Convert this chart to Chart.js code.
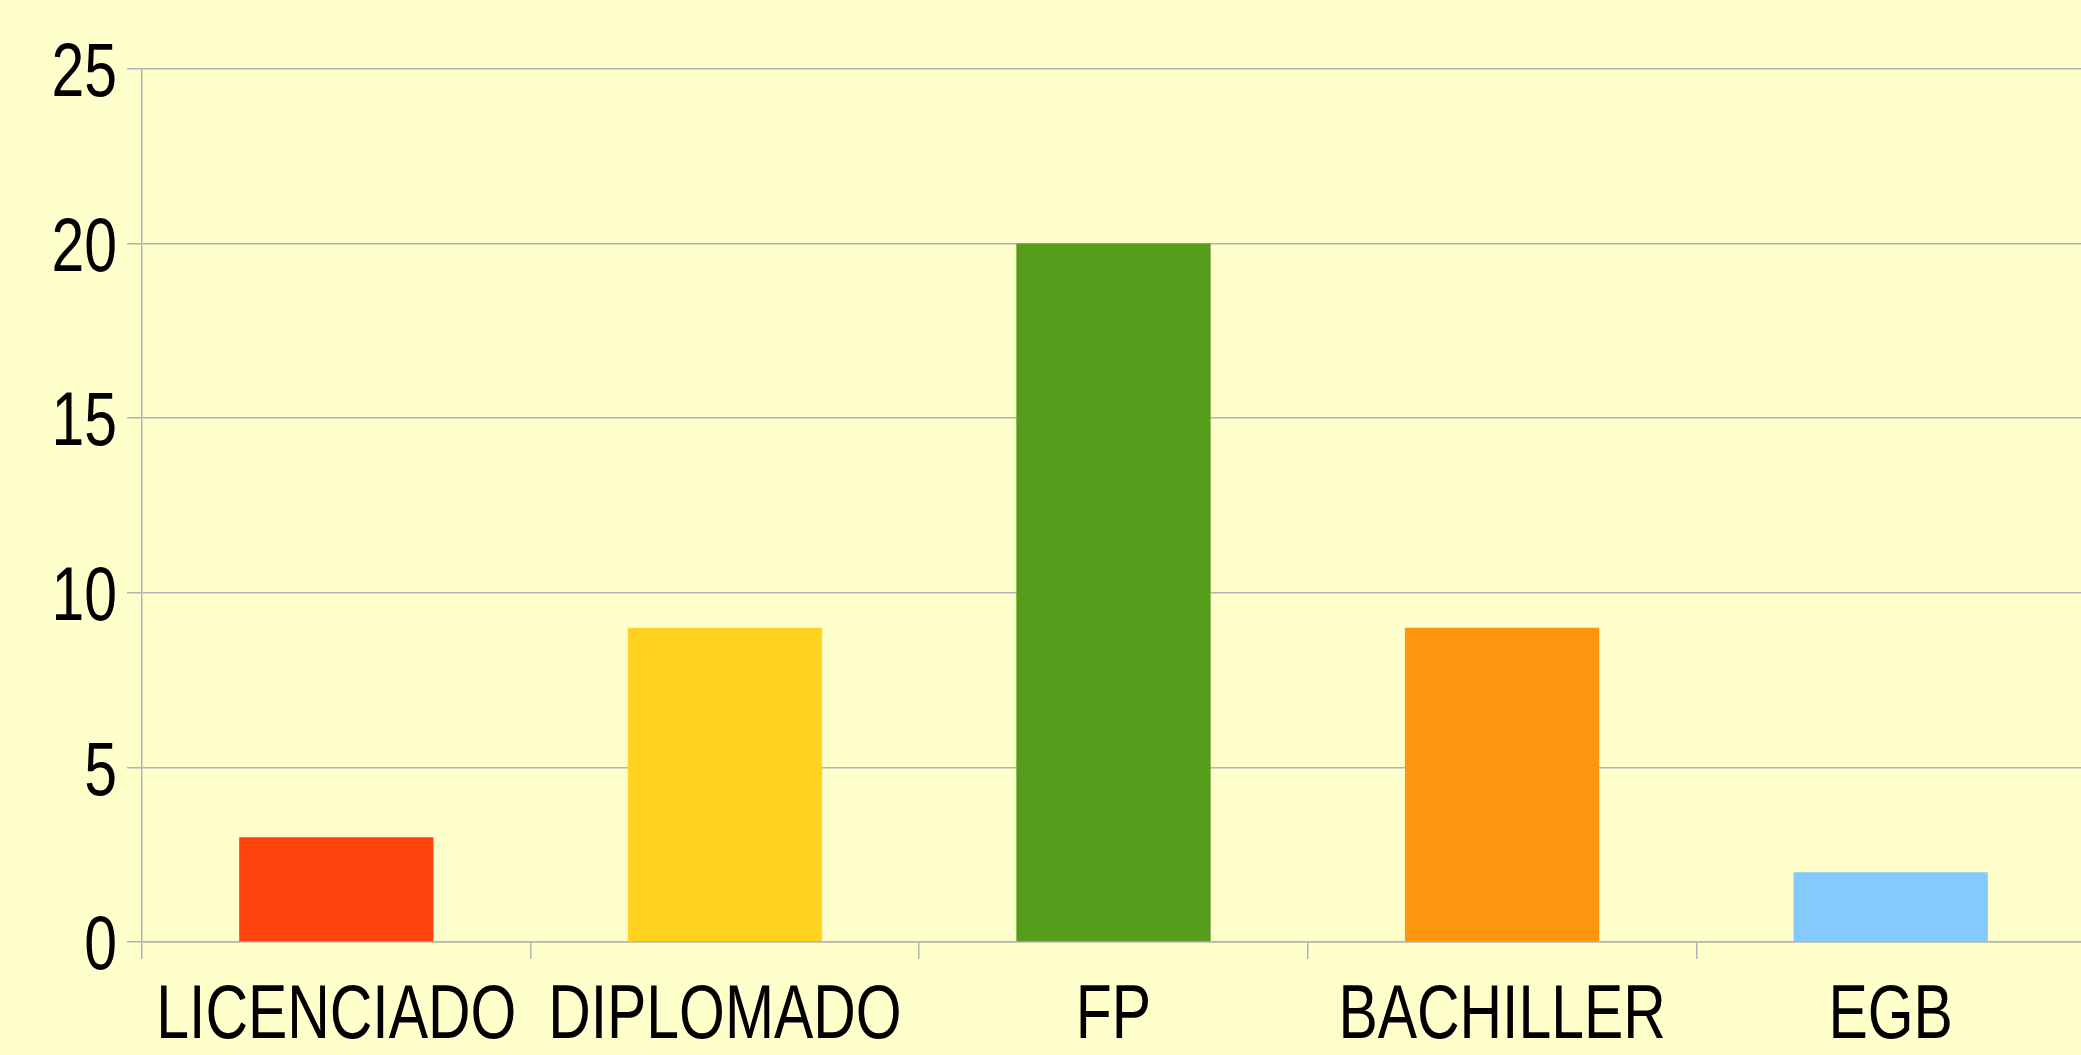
<!DOCTYPE html>
<html>
<head>
<meta charset="utf-8">
<script src="https://cdn.jsdelivr.net/npm/chart.js@4/dist/chart.umd.min.js"></script>
<style>
  html, body { margin: 0; padding: 0; background: #ffffcc; overflow: hidden; }
  /* the plot in the source runs a few px past the right edge */
  #wrap { width: 2085px; height: 1055px; position: relative; }
</style>
</head>
<body>
<div id="wrap"><canvas id="myChart"></canvas></div>
<script>
(function () {
  'use strict';

  var labels = ['LICENCIADO', 'DIPLOMADO', 'FP', 'BACHILLER', 'EGB'];
  var values = [3, 9, 20, 9, 2];
  var barColors = ['#ff420e', '#ffd320', '#579d1c', '#ff950e', '#83caff'];
  var yTicks = [0, 5, 10, 15, 20, 25];

  var fontSize = 76;
  var fontFamily = '"Liberation Sans", Arial, sans-serif';
  var narrow = 0.775; // the source uses a narrow face, squeeze the regular one
  var gridColor = '#b3b3b3';

  // draws the tick labels condensed, at the positions the scales give
  var narrowLabels = {
    id: 'narrowLabels',
    afterDraw: function (chart) {
      var c = chart.ctx;
      var xs = chart.scales.x, ys = chart.scales.y;
      var cap = fontSize * 0.716;
      c.save();
      c.font = fontSize + 'px ' + fontFamily;
      c.fillStyle = '#000';
      c.textBaseline = 'alphabetic';

      c.textAlign = 'right';
      ys.ticks.forEach(function (t, i) {
        var y = ys.getPixelForTick(i);
        c.save();
        c.translate(ys.right - 25, y + cap / 2);
        c.scale(narrow, 1);
        c.fillText(String(t.value), 0, 0);
        c.restore();
      });

      c.textAlign = 'center';
      xs.ticks.forEach(function (t, i) {
        var x = xs.getPixelForTick(i);
        c.save();
        c.translate(x, xs.top + 96);
        c.scale(narrow, 1);
        c.fillText(chart.data.labels[i], 0, 0);
        c.restore();
      });
      c.restore();
    }
  };

  var ctx = document.getElementById('myChart').getContext('2d');
  var myChart = new Chart(ctx, {
    type: 'bar',
    data: {
      labels: labels,
      datasets: [{
        data: values,
        backgroundColor: barColors,
        borderWidth: 0,
        categoryPercentage: 0.5,
        barPercentage: 1
      }]
    },
    options: {
      responsive: true,
      maintainAspectRatio: false,
      animation: false,
      layout: { padding: { top: 69, right: 0, left: 0, bottom: 0 } },
      plugins: {
        legend: { display: false },
        tooltip: { enabled: false }
      },
      scales: {
        x: {
          grid: {
            offset: true,
            drawOnChartArea: false,
            drawTicks: true,
            tickLength: 17,
            color: gridColor,
            lineWidth: 1.5
          },
          border: { color: gridColor, width: 1.5 },
          ticks: { color: 'rgba(0,0,0,0)', font: { size: 40 }, maxRotation: 0, autoSkip: false },
          afterFit: function (scale) { scale.height = 113; }
        },
        y: {
          min: 0,
          max: 25,
          afterBuildTicks: function (scale) {
            scale.ticks = yTicks.map(function (v) { return { value: v }; });
          },
          grid: {
            color: gridColor,
            lineWidth: 1.5,
            drawTicks: true,
            tickLength: 15
          },
          border: { color: gridColor, width: 1.5 },
          ticks: { color: 'rgba(0,0,0,0)', font: { size: 40 } },
          afterFit: function (scale) { scale.width = 142; }
        }
      }
    },
    plugins: [narrowLabels]
  });
})();
</script>
</body>
</html>
